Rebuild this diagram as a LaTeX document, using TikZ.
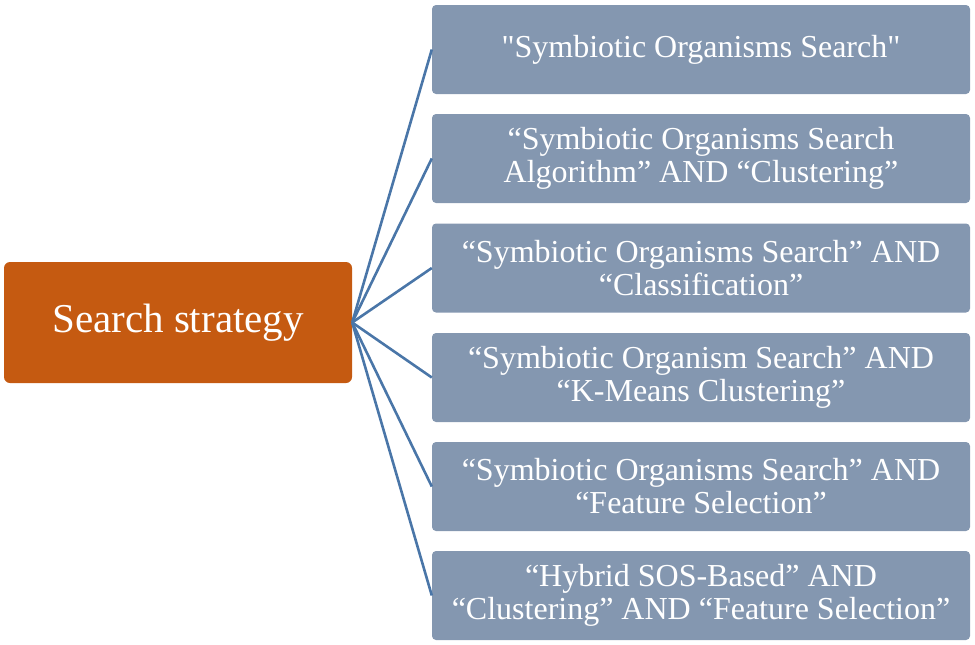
\documentclass[tikz,border=0pt]{standalone}
\usepackage{fontspec}
\setmainfont{Liberation Serif}[Ligatures=TeXOff]
\begin{document}
\begin{tikzpicture}[x=1pt,y=-1pt,
  box/.style={fill=boxc,rounded corners=4pt,text=white,align=center,font=\fontsize{32}{33}\selectfont,minimum width=538pt,minimum height=89pt,inner sep=0pt},
  conn/.style={draw=linec,line width=2.6pt}]
\definecolor{boxc}{HTML}{8497B0}
\definecolor{mainc}{HTML}{C55A11}
\definecolor{linec}{HTML}{4A76A8}
\useasboundingbox (0,0) rectangle (975,645);
\node[fill=mainc,rounded corners=6pt,text=white,font=\fontsize{41}{48}\selectfont,minimum width=348pt,minimum height=121pt,inner sep=0pt] (m) at (178,322.5) {Search strategy};
\node[box] (b1) at (701,49.5) {"Symbiotic Organisms Search"};
\node[box] (b2) at (701,158.5) {“Symbiotic Organisms Search\\Algorithm” AND “Clustering”};
\node[box] (b3) at (701,268) {“Symbiotic Organisms Search” AND\\“Classification”};
\node[box] (b4) at (701,377.5) {“Symbiotic Organism Search” AND\\“K-Means Clustering”};
\node[box] (b5) at (701,486.5) {“Symbiotic Organisms Search” AND\\“Feature Selection”};
\node[box] (b6) at (701,595.5) {“Hybrid SOS-Based” AND\\“Clustering” AND “Feature Selection”};
\foreach \b in {b1,b2,b3,b4,b5,b6} \draw[conn] (m.east) -- (\b.west);
\end{tikzpicture}
\end{document}
